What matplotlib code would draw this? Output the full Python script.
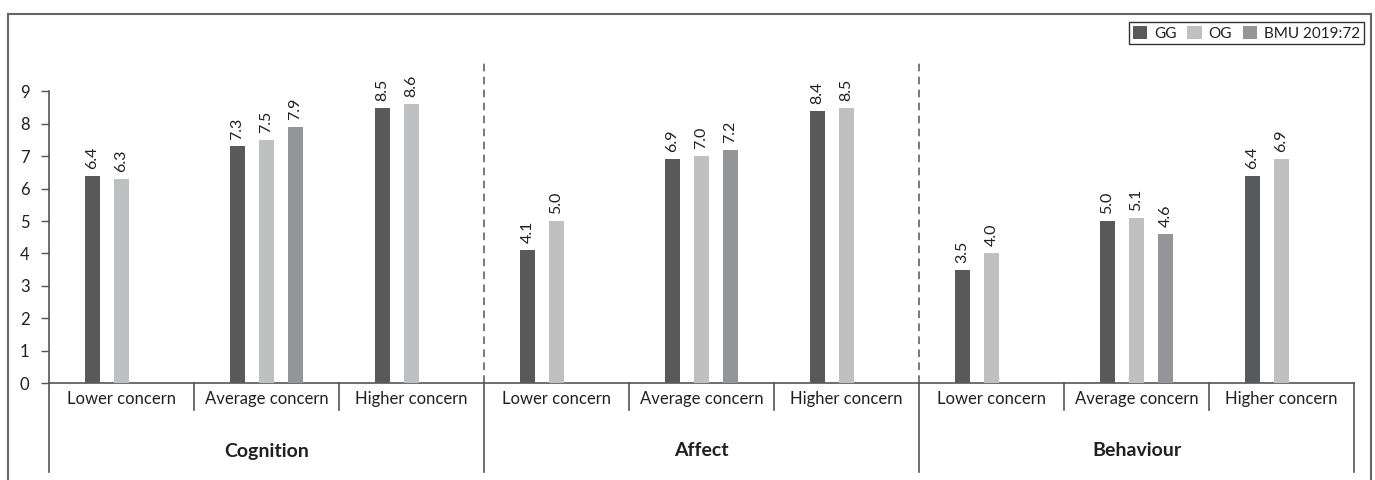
import matplotlib
matplotlib.use("Agg")
import matplotlib.pyplot as plt
import numpy as np
from matplotlib.lines import Line2D
from matplotlib.patches import Patch

plt.rcParams['font.family'] = ['Lato', 'DejaVu Sans']

groups = ["Cognition", "Affect", "Behaviour"]
levels = ["Lower concern", "Average concern", "Higher concern"]
series = ["GG", "OG", "BMU 2019:72"]
gg = [6.4, 7.3, 8.5, 4.1, 6.9, 8.4, 3.5, 5.0, 6.4]
og = [6.3, 7.5, 8.6, 5.0, 7.0, 8.5, 4.0, 5.1, 6.9]
bmu = [None, 7.9, None, None, 7.2, None, None, 4.6, None]
colors = ["#58595b", "#bfc0c2", "#939598"]
yticks = [0, 1, 2, 3, 4, 5, 6, 7, 8, 9]

W, H = 1375, 480
fig = plt.figure(figsize=(W / 100, H / 100), dpi=100)
ax_left, ax_right, ax_bottom, ax_top = 49, 1354, 383, 59
ax = fig.add_axes([ax_left / W, (H - ax_bottom) / H, (ax_right - ax_left) / W, (ax_bottom - ax_top) / H])

text_c = "#231f20"
line_c = "#555555"
ncat = len(gg)
x = np.arange(ncat) + 0.5
offsets = [-0.2, 0.0, 0.2]
bw = 0.11

for vals, off, col in zip([gg, og, bmu], offsets, colors):
    for xi, v in zip(x, vals):
        if v is None:
            continue
        ax.bar(xi + off, v, width=bw, color=col, edgecolor='none', zorder=3)
        ax.annotate(f"{v:.1f}", (xi + off, v), xytext=(0, 5), textcoords='offset points',
                    rotation=90, ha='center', va='bottom', fontsize=11.5, color=text_c)

ax.set_xlim(0, ncat)
ax.set_ylim(0, 10)
ax.set_yticks(yticks)
ax.set_yticklabels([str(t) for t in yticks], fontsize=12, color=text_c)
ax.tick_params(axis='y', direction='out', length=6, width=1, color=line_c, pad=8)
ax.set_xticks([])
for s in ['top', 'right']:
    ax.spines[s].set_visible(False)
ax.spines['left'].set_bounds(0, 9)
ax.spines['left'].set_color(line_c)
ax.spines['bottom'].set_color(line_c)
ax.spines['left'].set_linewidth(1.2)
ax.spines['bottom'].set_linewidth(1.2)

# dashed dividers between groups
for b in [3, 6]:
    ax.plot([b, b], [0, 10], ls=(0, (5, 3.5)), color=line_c, lw=1.1, zorder=2, clip_on=False)

trans = ax.get_xaxis_transform()
h_ax = ax_bottom - ax_top
short = -27 / h_ax
long_ = -89 / h_ax
for b in range(ncat + 1):
    y1 = long_ if b % 3 == 0 else short
    ax.plot([b, b], [0, y1], color=line_c, lw=1.2, transform=trans, clip_on=False)

for i, xi in enumerate(x):
    ax.text(xi, -16 / h_ax, levels[i % 3], transform=trans, ha='center', va='center',
            fontsize=12, color=text_c)
for g, name in enumerate(groups):
    ax.text(g * 3 + 1.5, -68 / h_ax, name, transform=trans, ha='center', va='center',
            fontsize=14, fontweight='bold', color=text_c)

# outer frame
fx = lambda px: px / W
fy = lambda py: (H - py) / H
fr_c = "#666666"
fig.add_artist(Line2D([fx(8), fx(8)], [0, fy(14)], color=fr_c, lw=1.5))
fig.add_artist(Line2D([fx(8), fx(1371)], [fy(14), fy(14)], color=fr_c, lw=1.5))
fig.add_artist(Line2D([fx(1371), fx(1371)], [fy(14), 0], color=fr_c, lw=1.5))

handles = [Patch(facecolor=c, edgecolor='none') for c in colors]
leg = fig.legend(handles, series, loc='upper right', bbox_to_anchor=(fx(1364), fy(22)),
                 ncol=3, fontsize=11, frameon=True, fancybox=False, edgecolor='#000000',
                 borderpad=0.25, handlelength=0.95, handleheight=0.95, handletextpad=0.45,
                 columnspacing=0.7, borderaxespad=0)
leg.get_frame().set_linewidth(1.0)
for t in leg.get_texts():
    t.set_color(text_c)

fig.savefig("out.png", dpi=100)
